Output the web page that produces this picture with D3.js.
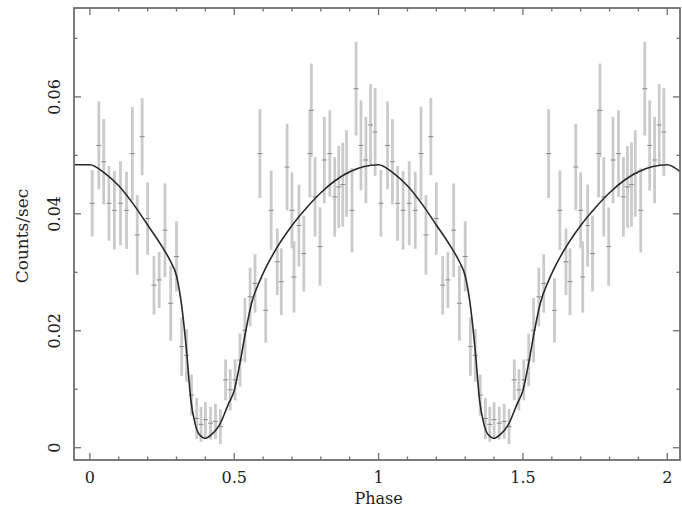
<!DOCTYPE html>
<html>
<head>
  <meta charset="utf-8">
  <script src="https://cdnjs.cloudflare.com/ajax/libs/d3/7.8.5/d3.min.js"></script>
  <style>
    html, body { margin: 0; padding: 0; background: #fff; }
    svg { display: block; }
    .lbl { font-family: "DejaVu Serif", serif; fill: #222; }
  </style>
</head>
<body>
<div id="chart"></div>
<script>
// one folded cycle of the light curve, plotted twice (phase 0-1 and 1-2)
const binPhase = [0.008, 0.031, 0.048, 0.066, 0.085, 0.106, 0.127, 0.147, 0.164, 0.181,
  0.200, 0.222, 0.240, 0.260, 0.280, 0.300, 0.318, 0.335, 0.352, 0.370,
  0.385, 0.400, 0.418, 0.435, 0.452, 0.470, 0.486, 0.503, 0.520, 0.537,
  0.555, 0.572, 0.589, 0.609, 0.628, 0.649, 0.663, 0.683, 0.700, 0.707,
  0.724, 0.741, 0.762, 0.767, 0.780, 0.797, 0.812, 0.831, 0.848, 0.862,
  0.876, 0.889, 0.908, 0.922, 0.939, 0.956, 0.972, 0.988];
const binRate = [0.0418, 0.0517, 0.0489, 0.0418, 0.0406, 0.0418, 0.0406, 0.0503, 0.0364, 0.0532,
  0.0392, 0.0278, 0.0287, 0.0372, 0.0247, 0.0327, 0.0173, 0.0158, 0.0090, 0.0050,
  0.0040, 0.0048, 0.0042, 0.0045, 0.0036, 0.0116, 0.0099, 0.0116, 0.0150, 0.0201,
  0.0258, 0.0281, 0.0503, 0.0235, 0.0406, 0.0318, 0.0284, 0.0480, 0.0406, 0.0292,
  0.0380, 0.0332, 0.0503, 0.0577, 0.0429, 0.0344, 0.0492, 0.0503, 0.0429, 0.0446,
  0.0450, 0.0469, 0.0406, 0.0614, 0.0517, 0.0492, 0.0552, 0.0540];
const binErr = [0.0057, 0.0075, 0.0073, 0.0064, 0.0067, 0.0072, 0.0066, 0.0080, 0.0068, 0.0066,
  0.0062, 0.0050, 0.0048, 0.0080, 0.0064, 0.0060, 0.0050, 0.0045, 0.0035, 0.0035,
  0.0030, 0.0030, 0.0028, 0.0030, 0.0030, 0.0035, 0.0035, 0.0035, 0.0045, 0.0055,
  0.0050, 0.0050, 0.0076, 0.0055, 0.0068, 0.0057, 0.0057, 0.0074, 0.0065, 0.0061,
  0.0070, 0.0065, 0.0075, 0.0080, 0.0068, 0.0067, 0.0074, 0.0074, 0.0068, 0.0070,
  0.0072, 0.0074, 0.0072, 0.0080, 0.0077, 0.0074, 0.0070, 0.0075];

// model light curve over one cycle
const modelPhase = [0.00, 0.05, 0.10, 0.15, 0.20, 0.25, 0.28, 0.30,
  0.32, 0.335, 0.35, 0.365, 0.38, 0.40, 0.42, 0.45, 0.48, 0.50,
  0.52, 0.54, 0.56, 0.59, 0.63, 0.70, 0.75, 0.80, 0.85, 0.90, 0.95, 1.00];
const modelRate = [0.0484, 0.0470, 0.0448, 0.0417, 0.0381, 0.0344, 0.0318, 0.0294,
  0.0235, 0.0165, 0.0080, 0.0040, 0.0022, 0.0016, 0.0022, 0.0040, 0.0075, 0.0098,
  0.0145, 0.0200, 0.0247, 0.0287, 0.0327, 0.0380, 0.0410, 0.0436, 0.0457, 0.0472, 0.0481, 0.0484];

const xTicks = [0, 0.5, 1, 1.5, 2];
const yTicks = [0, 0.02, 0.04, 0.06];
const xLabel = "Phase";
const yLabel = "Counts/sec";

const W = 682, H = 513;
const box = {left: 74, right: 680, top: 8, bottom: 460};

const x = d3.scaleLinear().domain([-0.055, 2.044]).range([box.left, box.right]);
const y = d3.scaleLinear().domain([-0.0021, 0.0752]).range([box.bottom, box.top]);

const svg = d3.select("#chart").append("svg")
  .attr("width", W).attr("height", H);

svg.append("defs").append("clipPath").attr("id", "clip")
  .append("rect")
  .attr("x", box.left).attr("y", box.top)
  .attr("width", box.right - box.left).attr("height", box.bottom - box.top);

// points for both cycles
const points = [];
[0, 1].forEach(c => {
  binPhase.forEach((p, i) => points.push({p: p + c, v: binRate[i], e: binErr[i]}));
});

const plot = svg.append("g").attr("clip-path", "url(#clip)");

plot.append("g").selectAll("line")
  .data(points)
  .join("line")
    .attr("x1", d => x(d.p)).attr("x2", d => x(d.p))
    .attr("y1", d => y(d.v - d.e)).attr("y2", d => y(d.v + d.e))
    .attr("stroke", "#cbcbcb")
    .attr("stroke-width", 2.8);

plot.append("g").selectAll("line")
  .data(points)
  .join("line")
    .attr("x1", d => x(d.p) - 2.5).attr("x2", d => x(d.p) + 2.5)
    .attr("y1", d => y(d.v)).attr("y2", d => y(d.v))
    .attr("stroke", "#8a8a8a")
    .attr("stroke-width", 1);

// model line: flat lead-in before phase 0, two cycles, a bit of the third
const model = [[x.domain()[0], modelRate[0]]];
[0, 1, 2].forEach(c => {
  modelPhase.forEach((p, i) => {
    if (c > 0 && i === 0) return;
    if (p + c <= x.domain()[1] + 0.06) model.push([p + c, modelRate[i]]);
  });
});

plot.append("path")
  .datum(model)
  .attr("fill", "none")
  .attr("stroke", "#2a2a2a")
  .attr("stroke-width", 1.6)
  .attr("d", d3.line().x(d => x(d[0])).y(d => y(d[1])).curve(d3.curveMonotoneX));

// frame with inward ticks on all four sides
const axisColor = "#6e6e6e";
const frame = svg.append("g").attr("stroke", axisColor).attr("fill", "none");

const xMinor = d3.range(0, 2.01, 0.1).map(v => +v.toFixed(2));
const yMinor = d3.range(0, 0.0751, 0.01).map(v => +v.toFixed(3));

xMinor.forEach(v => {
  const major = xTicks.some(t => Math.abs(t - v) < 1e-6);
  const len = major ? 7 : 3.5;
  frame.append("line").attr("x1", x(v)).attr("x2", x(v))
    .attr("y1", box.bottom).attr("y2", box.bottom - len).attr("stroke-width", 1.3);
  frame.append("line").attr("x1", x(v)).attr("x2", x(v))
    .attr("y1", box.top).attr("y2", box.top + len).attr("stroke-width", 1.3);
});

yMinor.forEach(v => {
  const major = yTicks.some(t => Math.abs(t - v) < 1e-6);
  const len = major ? 7 : 3.5;
  frame.append("line").attr("y1", y(v)).attr("y2", y(v))
    .attr("x1", box.left).attr("x2", box.left + len).attr("stroke-width", 1.3);
  frame.append("line").attr("y1", y(v)).attr("y2", y(v))
    .attr("x1", box.right).attr("x2", box.right - len).attr("stroke-width", 1.3);
});

frame.append("rect")
  .attr("x", box.left).attr("y", box.top)
  .attr("width", box.right - box.left).attr("height", box.bottom - box.top)
  .attr("stroke-width", 1.8);

// tick labels
svg.append("g").selectAll("text")
  .data(xTicks)
  .join("text")
    .attr("class", "lbl")
    .attr("x", d => x(d)).attr("y", 483)
    .attr("text-anchor", "middle")
    .attr("font-size", 16)
    .text(d => d3.format("")(d));

svg.append("g").selectAll("text")
  .data(yTicks)
  .join("text")
    .attr("class", "lbl")
    .attr("transform", d => `translate(60,${y(d)}) rotate(-90)`)
    .attr("text-anchor", "middle")
    .attr("font-size", 16)
    .text(d => d === 0 ? "0" : d3.format(".2f")(d));

svg.append("text")
  .attr("class", "lbl")
  .attr("x", x(1)).attr("y", 504)
  .attr("text-anchor", "middle")
  .attr("font-size", 16)
  .text(xLabel);

svg.append("text")
  .attr("class", "lbl")
  .attr("transform", `translate(28,236) rotate(-90)`)
  .attr("text-anchor", "middle")
  .attr("font-size", 17)
  .text(yLabel);
</script>
</body>
</html>
